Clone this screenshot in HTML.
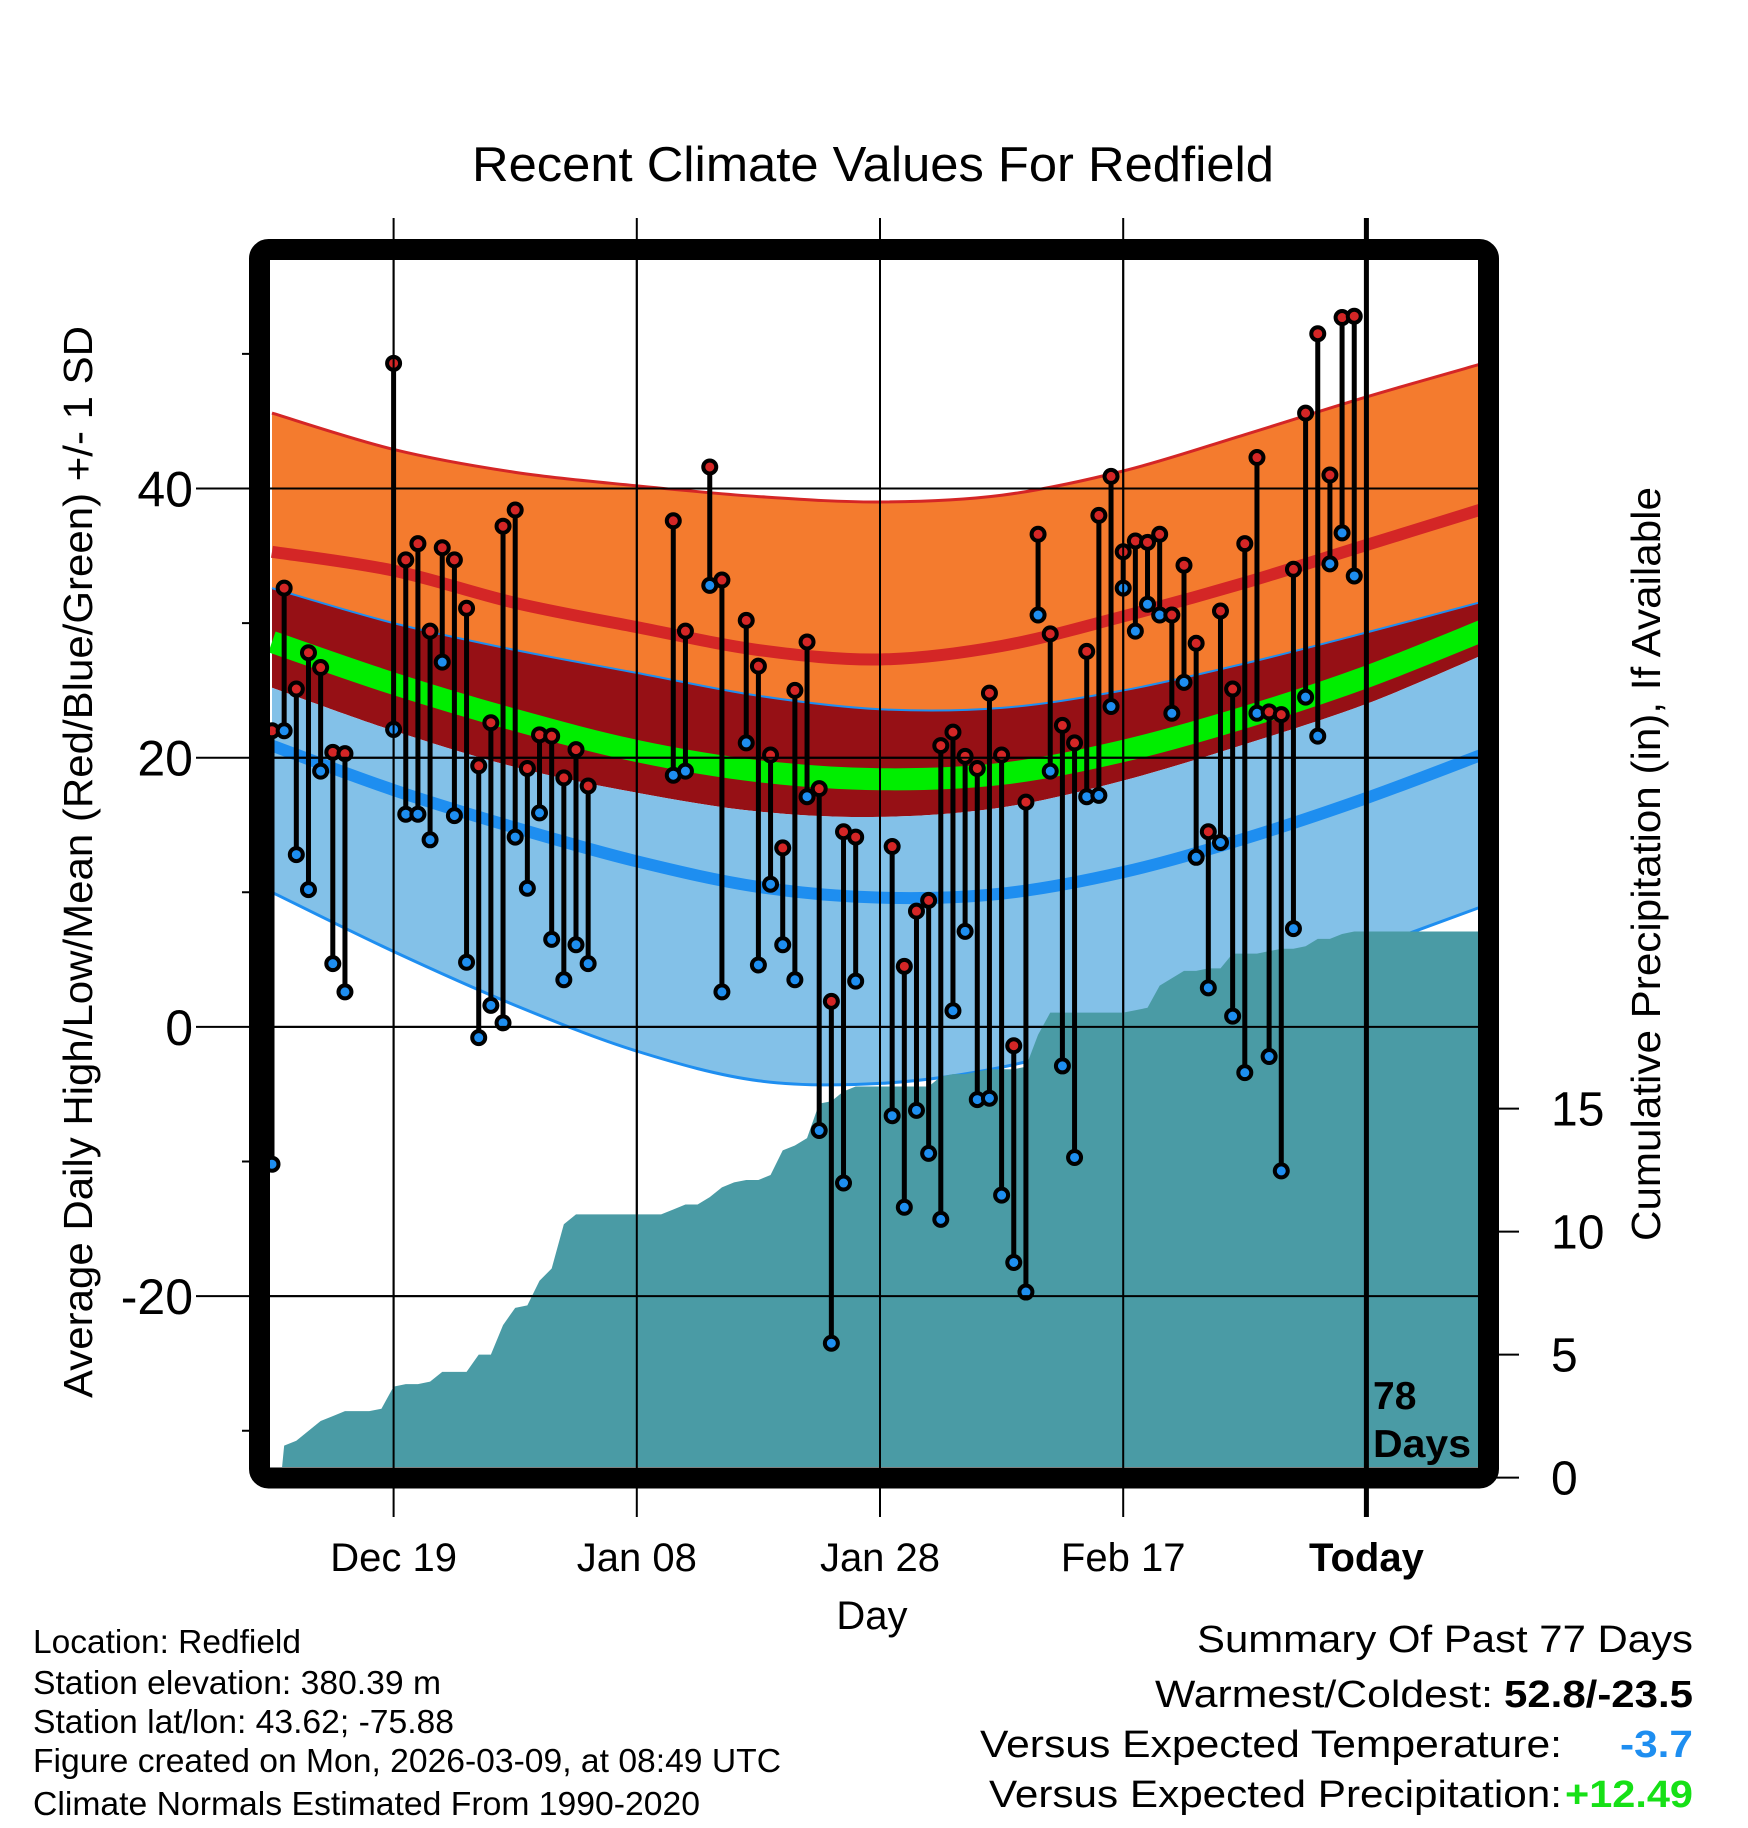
<!DOCTYPE html>
<html><head><meta charset="utf-8"><style>
html,body{margin:0;padding:0;background:#fff;}
svg{display:block;font-family:"Liberation Sans",Arial,sans-serif;}
</style></head><body>
<svg id="chart" width="1748" height="1828" viewBox="0 0 1748 1828" xmlns="http://www.w3.org/2000/svg">
<defs><clipPath id="plotclip"><rect x="270" y="260" width="1208" height="1207"/></clipPath></defs>
<g id="plot" clip-path="url(#plotclip)"></g>
<g id="overlay"></g>
<rect x="259.5" y="249.5" width="1229" height="1228.5" rx="9" fill="none" stroke="#000" stroke-width="21"/>
<text x="873" y="181" font-size="49" text-anchor="middle" textLength="802" lengthAdjust="spacingAndGlyphs">Recent Climate Values For Redfield</text>
<text transform="translate(92,862) rotate(-90)" font-size="41" text-anchor="middle" textLength="1072" lengthAdjust="spacingAndGlyphs">Average Daily High/Low/Mean (Red/Blue/Green) +/- 1 SD</text>
<text transform="translate(1660,864) rotate(-90)" font-size="41" text-anchor="middle" textLength="754" lengthAdjust="spacingAndGlyphs">Cumulative Precipitation (in), If Available</text>
<text x="872" y="1629" font-size="40" text-anchor="middle">Day</text>
<text x="1373" y="1409" font-size="39" font-weight="bold">78</text>
<text x="1373" y="1457" font-size="39" font-weight="bold" textLength="98" lengthAdjust="spacingAndGlyphs">Days</text>
<g font-size="33">
<text x="33" y="1653" textLength="268" lengthAdjust="spacingAndGlyphs">Location: Redfield</text>
<text x="33" y="1694" textLength="408" lengthAdjust="spacingAndGlyphs">Station elevation: 380.39 m</text>
<text x="33" y="1733" textLength="421" lengthAdjust="spacingAndGlyphs">Station lat/lon: 43.62; -75.88</text>
<text x="33" y="1772" textLength="748" lengthAdjust="spacingAndGlyphs">Figure created on Mon, 2026-03-09, at 08:49 UTC</text>
<text x="33" y="1815" textLength="667" lengthAdjust="spacingAndGlyphs">Climate Normals Estimated From 1990-2020</text>
</g>
<g font-size="38">
<text x="1197" y="1652" textLength="496" lengthAdjust="spacingAndGlyphs">Summary Of Past 77 Days</text>
<text x="1155" y="1707" textLength="338" lengthAdjust="spacingAndGlyphs">Warmest/Coldest:</text>
<text x="1504" y="1707" font-weight="bold" textLength="189" lengthAdjust="spacingAndGlyphs">52.8/-23.5</text>
<text x="980" y="1757" textLength="582" lengthAdjust="spacingAndGlyphs">Versus Expected Temperature:</text>
<text x="1620" y="1757" font-weight="bold" fill="#1e8ef0" textLength="73" lengthAdjust="spacingAndGlyphs">-3.7</text>
<text x="989" y="1807" textLength="573" lengthAdjust="spacingAndGlyphs">Versus Expected Precipitation:</text>
<text x="1565" y="1807" font-weight="bold" fill="#16e016" textLength="128" lengthAdjust="spacingAndGlyphs">+12.49</text>
</g>
</svg>
<script>
// ---- data ----
const highs = [22.0,32.6,25.1,27.8,26.7,20.4,20.3,null,null,null,49.3,34.7,35.9,29.4,35.6,34.7,31.1,19.4,22.6,37.2,38.4,19.2,21.7,21.6,18.5,20.6,17.9,null,null,null,null,null,null,37.6,29.4,null,41.6,33.2,null,30.2,26.8,20.2,13.3,25.0,28.6,17.7,1.9,14.5,14.1,null,null,13.4,4.5,8.6,9.4,20.9,21.9,20.1,19.2,24.8,20.2,-1.4,16.7,36.6,29.2,22.4,21.1,27.9,38.0,40.9,35.3,36.1,36.0,36.6,30.6,34.3,28.5,14.5,30.9,25.1,35.9,42.3,23.4,23.2,34.0,45.6,51.5,41.0,52.7,52.8];
const lows = [-10.2,22.0,12.8,10.2,19.0,4.7,2.6,null,null,null,22.1,15.8,15.8,13.9,27.1,15.7,4.8,-0.8,1.6,0.3,14.1,10.3,15.9,6.5,3.5,6.1,4.7,null,null,null,null,null,null,18.7,19.0,null,32.8,2.6,null,21.1,4.6,10.6,6.1,3.5,17.1,-7.7,-23.5,-11.6,3.4,null,null,-6.6,-13.4,-6.2,-9.4,-14.3,1.2,7.1,-5.4,-5.3,-12.5,-17.5,-19.7,30.6,19.0,-2.9,-9.7,17.1,17.2,23.8,32.6,29.4,31.4,30.6,23.3,25.6,12.6,2.9,13.7,0.8,-3.4,23.3,-2.2,-10.7,7.3,24.5,21.6,34.4,36.7,33.5];
const precip = [0.4,1.3,1.5,1.9,2.3,2.5,2.7,2.7,2.7,2.8,3.7,3.8,3.8,3.9,4.3,4.3,4.3,5.0,5.0,6.2,6.9,7.0,8.0,8.5,10.3,10.7,10.7,10.7,10.7,10.7,10.7,10.7,10.7,10.9,11.1,11.1,11.4,11.8,12.0,12.1,12.1,12.3,13.3,13.5,13.8,15.2,15.3,15.7,15.9,15.9,15.9,15.9,15.9,15.9,15.9,16.3,16.4,16.4,16.5,16.6,16.6,16.6,16.7,18.0,18.9,18.9,18.9,18.9,18.9,18.9,18.9,19.0,19.1,20.0,20.3,20.6,20.6,20.7,20.7,21.3,21.3,21.3,21.4,21.5,21.5,21.6,21.9,21.9,22.1,22.2];
// normals sampled every 10 days (day 0..100)
const normDays = [0,10,20,30,40,50,60,70,80,90,100];
const highPlusSD = [45.6,42.9,41.2,40.2,39.4,39.0,39.5,41.3,44.0,46.8,49.4];
const meanHigh = [35.3,33.9,31.5,29.7,28.0,27.3,28.3,30.5,33.0,35.8,38.6];
const highMinusSD = [32.6,30.0,28.0,26.3,24.6,23.6,23.7,25.0,27.0,29.3,31.7];
const meanTemp = [28.6,25.5,22.8,20.5,19.0,18.4,18.8,20.5,23.0,26.0,29.6];
const lowPlusSD = [25.2,22.0,19.3,17.4,16.0,15.6,16.3,18.3,21.0,24.0,27.8];
const meanLow = [20.9,17.6,14.8,12.3,10.4,9.6,9.9,11.5,14.0,17.0,20.4];
const lowMinusSD = [10.0,5.6,1.6,-1.8,-4.0,-4.2,-3.0,-0.5,2.6,5.8,9.1];
const yTicks = [40,20,0,-20];
const yMinor = [50,30,10,-10,-30];
const xTickDays = [10,30,50,70,90];
const xTickLabels = ["Dec 19","Jan 08","Jan 28","Feb 17","Today"];
const pTicks = [0,5,10,15];

// ---- scales ----
const X = d => 272 + 12.16*d;
const Y = t => 488.5 + (40 - t)*13.46;
const P = p => 1477.6 - 24.6*p;
const NS = "http://www.w3.org/2000/svg";
const plot = document.getElementById('plot');
const ov = document.getElementById('overlay');
function mk(tag, attrs, parent){const e=document.createElementNS(NS,tag);for(const k in attrs)e.setAttribute(k,attrs[k]);parent.appendChild(e);return e;}
function pts(arr){return normDays.map((d,i)=>[X(d),Y(arr[i])]);}
function spline(p){let s=`${p[0][0]},${p[0][1]}`;for(let i=0;i<p.length-1;i++){const p0=p[i-1]||p[i],p1=p[i],p2=p[i+1],p3=p[i+2]||p2;const c1=[p1[0]+(p2[0]-p0[0])/6,p1[1]+(p2[1]-p0[1])/6],c2=[p2[0]-(p3[0]-p1[0])/6,p2[1]-(p3[1]-p1[1])/6];s+=` C${c1[0]},${c1[1]} ${c2[0]},${c2[1]} ${p2[0]},${p2[1]}`;}return s;}
function band(top,bot){const a=pts(top),b=pts(bot).reverse();return 'M'+spline(a)+' L'+spline(b)+' Z';}
function line(arr){return 'M'+spline(pts(arr));}

let e;
e=mk('path',{d:band(highPlusSD,highMinusSD),fill:'#f47b2e'},plot);


e=mk('path',{d:band(highMinusSD,lowPlusSD),fill:'#961015'},plot);


e=mk('path',{d:band(lowPlusSD,lowMinusSD),fill:'#83c1e8'},plot);


e=mk('path',{d:line(highPlusSD),fill:'none',stroke:'#d42626','stroke-width':3},plot);


e=mk('path',{d:line(meanHigh),fill:'none',stroke:'#d42626','stroke-width':12},plot);


e=mk('path',{d:line(highMinusSD),fill:'none',stroke:'#1e8ef0','stroke-width':2},plot);


e=mk('path',{d:line(meanTemp),fill:'none',stroke:'#00ee00','stroke-width':22},plot);


e=mk('path',{d:line(meanLow),fill:'none',stroke:'#1e8ef0','stroke-width':12},plot);


e=mk('path',{d:line(lowMinusSD),fill:'none',stroke:'#1e8ef0','stroke-width':3},plot);



// gridlines
yTicks.forEach(t=>{e=mk('line',{x1:196,x2:1478,y1:Y(t),y2:Y(t),stroke:'#000','stroke-width':2},ov);

});
xTickDays.forEach((d,i)=>{if(i<4){e=mk('line',{x1:X(d),x2:X(d),y1:218,y2:1517,stroke:'#000','stroke-width':2},ov);

}});

// precipitation area (drawn inside plot above gridlines)
const gridInside = mk('g',{},plot);
yTicks.forEach(t=>{mk('line',{x1:196,x2:1478,y1:Y(t),y2:Y(t),stroke:'#000','stroke-width':2},gridInside);});
xTickDays.slice(0,4).forEach(d=>{mk('line',{x1:X(d),x2:X(d),y1:218,y2:1517,stroke:'#000','stroke-width':2},gridInside);});
let pd=`M${X(0)+6},1470`;
precip.forEach((v,i)=>{pd+=` L${i===0?X(0)+10:X(i)},${P(v)}`;});
pd+=` L1480,${P(precip[precip.length-1])} L1480,1470 Z`;
e=mk('path',{d:pd,fill:'#4a9ba5'},plot);



// today line
e=mk('line',{x1:X(90),x2:X(90),y1:218,y2:1517,stroke:'#000','stroke-width':5},ov);



// stems and markers
const marks = mk('g',{},plot);
highs.forEach((h,i)=>{const l=lows[i];if(h===null||l===null)return;
e=mk('line',{x1:X(i),x2:X(i),y1:Y(h),y2:Y(l),stroke:'#000','stroke-width':5},marks);

});
highs.forEach((h,i)=>{const l=lows[i];if(h===null||l===null)return;
e=mk('circle',{cx:X(i),cy:Y(l),r:6.5,fill:'#1e8ef0',stroke:'#000','stroke-width':4},marks);


e=mk('circle',{cx:X(i),cy:Y(h),r:6.5,fill:'#d42626',stroke:'#000','stroke-width':4},marks);

});

// axis ticks and labels
yMinor.forEach(t=>{e=mk('line',{x1:242,x2:262,y1:Y(t),y2:Y(t),stroke:'#000','stroke-width':2},ov);

});
yTicks.forEach(t=>{e=mk('text',{x:193,y:Y(t)+18,'font-size':50,'text-anchor':'end'},ov);e.textContent=String(t);

});
xTickDays.forEach((d,i)=>{e=mk('text',{x:X(d),y:1571,'font-size':40,'text-anchor':'middle','font-weight':i===4?'bold':'normal'},ov);e.textContent=xTickLabels[i];

});
pTicks.forEach(p=>{e=mk('line',{x1:1490,x2:1519,y1:P(p),y2:P(p),stroke:'#000','stroke-width':2},ov);


e=mk('text',{x:1551,y:P(p)+17,'font-size':48},ov);e.textContent=String(p);

});
</script>
</body></html>
